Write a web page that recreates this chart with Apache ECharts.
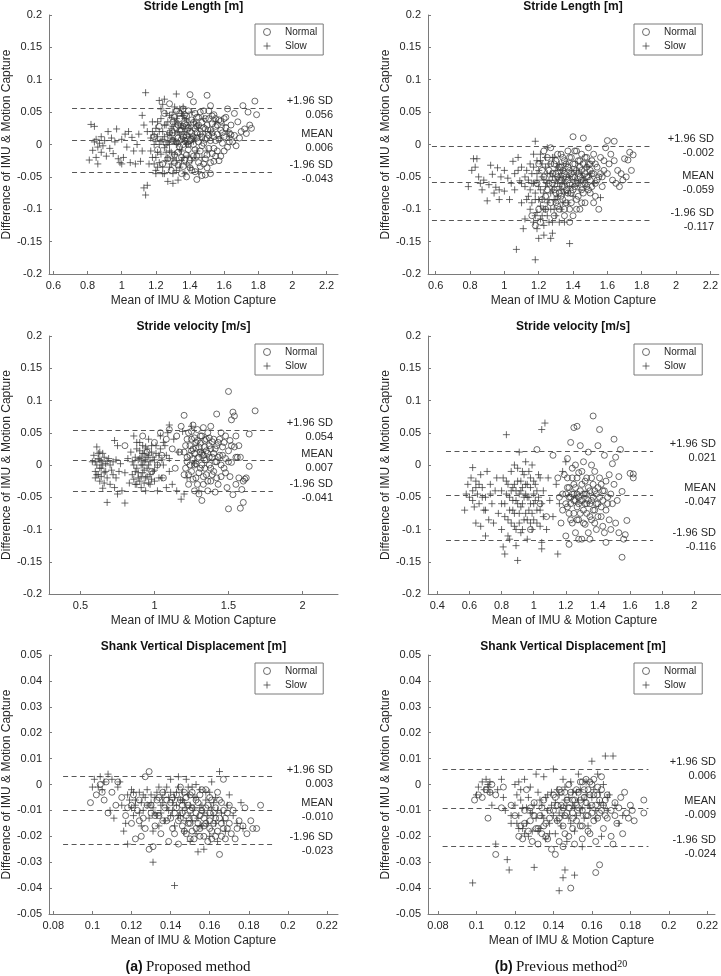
<!DOCTYPE html>
<html><head><meta charset="utf-8">
<script src="https://cdn.jsdelivr.net/npm/echarts@6/dist/echarts.min.js"></script>
<style>html,body{margin:0;padding:0;background:#fff}#c{width:721px;height:976px}</style>
</head><body><div id="c"></div>
<script>
// ---------------- DATA ----------------
const titles = ['Stride Length [m]', 'Stride Length [m]', 'Stride velocity [m/s]', 'Stride velocity [m/s]', 'Shank Vertical Displacement [m]', 'Shank Vertical Displacement [m]'];
const seriesNames = ['Normal', 'Slow'];
const xAxisTitle = 'Mean of IMU & Motion Capture';
const yAxisTitle = 'Difference of IMU & Motion Capture';
const lineNames = ['+1.96 SD', 'MEAN', '-1.96 SD'];
const captions = ['(a)', 'Proposed method', '(b)', 'Previous method', '20'];

const p1XRange = [0.574, 2.267], p1YRange = [-0.2, 0.2], p1YStep = 0.05;
const p2XRange = [0.555, 2.249], p2YRange = [-0.2, 0.2], p2YStep = 0.05;
const p3XRange = [0.287, 2.240], p3YRange = [-0.2, 0.2], p3YStep = 0.05;
const p4XRange = [0.342, 2.166], p4YRange = [-0.2, 0.2], p4YStep = 0.05;
const p5XRange = [0.0778, 0.2256], p5YRange = [-0.05, 0.05], p5YStep = 0.01;
const p6XRange = [0.0748, 0.2240], p6YRange = [-0.05, 0.05], p6YStep = 0.01;

const p1XTicks = [0.6, 0.8, 1, 1.2, 1.4, 1.6, 1.8, 2, 2.2];
const p2XTicks = [0.6, 0.8, 1, 1.2, 1.4, 1.6, 1.8, 2, 2.2];
const p3XTicks = [0.5, 1, 1.5, 2];
const p4XTicks = [0.4, 0.6, 0.8, 1, 1.2, 1.4, 1.6, 1.8, 2];
const p5XTicks = [0.08, 0.1, 0.12, 0.14, 0.16, 0.18, 0.2, 0.22];
const p6XTicks = [0.08, 0.1, 0.12, 0.14, 0.16, 0.18, 0.2, 0.22];

// reference lines: [+1.96 SD, MEAN, -1.96 SD] and their x extent
const p1Lines = [0.056, 0.006, -0.043], p1LineX = [0.709, 1.880];
const p2Lines = [-0.002, -0.059, -0.117], p2LineX = [0.578, 1.856];
const p3Lines = [0.054, 0.007, -0.041], p3LineX = [0.449, 1.800];
const p4Lines = [0.021, -0.047, -0.116], p4LineX = [0.454, 1.743];
const p5Lines = [0.003, -0.010, -0.023], p5LineX = [0.0850, 0.1924];
const p6Lines = [0.006, -0.009, -0.024], p6LineX = [0.0824, 0.1894];

const p1Normal = [[1.19,0.012],[1.21,-0.008],[1.22,0.028],[1.24,-0.03],[1.25,0.048],[1.26,0.002],[1.27,-0.022],[1.28,0.063],[1.28,0.018],[1.29,-0.04],[1.3,0.035],[1.3,0.006],[1.31,-0.016],[1.32,0.026],[1.32,0.052],[1.33,-0.032],[1.33,0.01],[1.34,0.04],[1.34,-0.004],[1.35,0.022],[1.35,-0.045],[1.36,0.055],[1.36,0.0],[1.37,0.032],[1.37,-0.024],[1.38,0.014],[1.38,-0.05],[1.38,0.044],[1.39,-0.008],[1.39,0.026],[1.4,0.077],[1.4,0.006],[1.4,-0.036],[1.41,0.038],[1.41,0.018],[1.42,0.066],[1.42,-0.018],[1.42,0.0],[1.43,0.048],[1.43,-0.042],[1.44,-0.054],[1.44,0.028],[1.44,0.01],[1.45,-0.028],[1.45,0.042],[1.46,0.016],[1.46,-0.01],[1.47,-0.048],[1.47,0.034],[1.48,0.002],[1.48,0.052],[1.49,-0.022],[1.49,0.024],[1.49,-0.047],[1.5,0.076],[1.5,0.01],[1.5,-0.036],[1.51,0.04],[1.51,-0.006],[1.52,0.06],[1.52,0.022],[1.52,-0.045],[1.53,-0.014],[1.53,0.032],[1.54,0.046],[1.54,-0.026],[1.55,0.006],[1.55,0.028],[1.56,-0.01],[1.56,0.016],[1.57,0.038],[1.57,-0.025],[1.58,-0.018],[1.58,0.022],[1.59,0.002],[1.6,0.04],[1.6,0.012],[1.61,0.026],[1.62,0.055],[1.62,-0.004],[1.63,0.018],[1.64,0.03],[1.65,0.004],[1.66,0.048],[1.66,0.014],[1.67,-0.002],[1.68,0.035],[1.69,0.01],[1.7,0.02],[1.71,0.06],[1.72,0.024],[1.73,0.017],[1.74,0.05],[1.75,0.03],[1.76,0.025],[1.78,0.067],[1.79,0.046]];
const p1NormalCore = [[1.3,0.018],[1.31,0.042],[1.31,-0.028],[1.32,0.004],[1.33,0.03],[1.33,-0.012],[1.34,0.022],[1.34,0.048],[1.35,-0.02],[1.35,0.008],[1.36,0.028],[1.36,-0.034],[1.37,0.046],[1.37,0.006],[1.38,-0.016],[1.38,0.03],[1.39,0.052],[1.39,0.0],[1.4,0.02],[1.4,-0.024],[1.41,0.008],[1.41,-0.04],[1.42,0.034],[1.42,0.012],[1.43,-0.008],[1.43,0.024],[1.44,0.042],[1.44,-0.018],[1.45,0.004],[1.45,0.03],[1.46,-0.034],[1.46,0.05],[1.47,0.012],[1.47,-0.002],[1.48,0.026],[1.48,-0.03],[1.49,0.04],[1.49,0.008],[1.5,-0.016],[1.5,0.03],[1.51,0.052],[1.51,0.014],[1.52,-0.028],[1.52,0.006],[1.53,0.044],[1.53,0.018],[1.54,-0.006],[1.54,0.012],[1.55,0.04],[1.55,-0.018],[1.56,0.03],[1.57,0.008],[1.58,0.036],[1.59,0.018],[1.6,-0.01],[1.61,0.042],[1.63,0.004],[1.64,0.015],[1.36,0.012],[1.44,0.018]];
const p1Slow = [[0.81,-0.024],[0.82,0.031],[0.83,-0.009],[0.84,0.028],[0.84,0.004],[0.85,-0.02],[0.85,0.008],[0.86,-0.03],[0.86,-0.004],[0.87,0.002],[0.88,0.012],[0.88,-0.012],[0.89,-0.002],[0.9,0.006],[0.91,-0.018],[0.92,0.02],[0.93,-0.006],[0.94,0.01],[0.95,-0.014],[0.96,0.004],[0.97,0.024],[0.98,-0.022],[0.99,-0.028],[1.0,0.008],[1.0,-0.03],[1.01,-0.02],[1.02,0.016],[1.03,-0.004],[1.04,0.02],[1.05,-0.028],[1.06,0.011],[1.07,-0.01],[1.08,-0.03],[1.09,0.0],[1.1,0.016],[1.11,-0.026],[1.12,0.045],[1.12,-0.01],[1.13,0.03],[1.13,-0.067],[1.14,0.08],[1.14,-0.078],[1.15,-0.063],[1.15,0.02],[1.16,-0.03],[1.17,0.01],[1.18,-0.02],[1.18,0.035],[1.19,0.0],[1.2,-0.04],[1.2,0.025],[1.21,0.012],[1.21,-0.012],[1.22,0.068],[1.22,-0.028],[1.23,0.04],[1.23,0.005],[1.24,-0.035],[1.24,0.02],[1.25,0.07],[1.25,-0.005],[1.25,-0.045],[1.26,0.03],[1.26,0.0],[1.27,-0.057],[1.27,0.015],[1.27,-0.02],[1.28,0.045],[1.28,-0.01],[1.29,0.025],[1.29,-0.03],[1.3,0.008],[1.3,-0.06],[1.3,0.05],[1.31,-0.015],[1.31,0.035],[1.32,0.078],[1.32,0.0],[1.32,-0.04],[1.33,0.02],[1.33,-0.055],[1.34,0.055],[1.34,-0.008],[1.35,0.03],[1.35,-0.025],[1.36,0.01],[1.36,0.045],[1.37,-0.045],[1.37,0.02],[1.38,0.0],[1.38,0.038],[1.39,-0.018],[1.4,0.025],[1.4,-0.035],[1.41,0.05],[1.42,0.005],[1.43,-0.02],[1.44,0.03],[1.45,-0.042],[1.46,0.015],[1.48,0.04],[1.5,-0.01],[1.52,0.02],[1.55,0.035],[1.58,0.01],[1.6,0.03],[1.62,0.02],[1.63,0.012]];
const p1SlowCore = [[1.17,-0.01],[1.18,0.02],[1.19,-0.03],[1.19,0.015],[1.2,0.005],[1.2,-0.02],[1.21,0.035],[1.21,-0.035],[1.22,0.0],[1.22,0.02],[1.23,-0.015],[1.23,0.055],[1.24,0.008],[1.24,-0.045],[1.25,0.03],[1.25,0.012],[1.26,-0.025],[1.26,0.048],[1.26,-0.012],[1.27,0.004],[1.27,0.035],[1.28,-0.035],[1.28,0.018],[1.28,0.0],[1.29,0.042],[1.29,-0.012],[1.29,0.01],[1.3,-0.022],[1.3,0.028],[1.3,-0.045],[1.31,0.005],[1.31,0.018],[1.32,-0.025],[1.32,0.04],[1.33,0.002],[1.33,0.032],[1.34,-0.035],[1.34,0.015],[1.35,-0.01],[1.35,0.048],[1.36,-0.02],[1.36,0.025],[1.37,0.005],[1.37,0.04],[1.38,-0.03],[1.38,0.015],[1.39,0.03],[1.39,0.002],[1.4,0.012],[1.41,-0.025],[1.42,0.035],[1.43,0.01],[1.44,-0.01],[1.45,0.025],[1.47,-0.02],[1.49,0.02],[1.24,0.062],[1.31,0.058],[1.36,0.058],[1.2,-0.045]];

const p2Normal = [[1.16,-0.11],[1.18,-0.125],[1.19,-0.06],[1.2,-0.03],[1.21,-0.12],[1.22,-0.085],[1.23,-0.01],[1.23,-0.05],[1.24,-0.1],[1.25,-0.07],[1.25,-0.02],[1.26,-0.04],[1.27,-0.09],[1.27,-0.005],[1.28,-0.06],[1.29,-0.03],[1.29,-0.11],[1.3,-0.075],[1.3,-0.045],[1.31,-0.015],[1.31,-0.095],[1.32,-0.055],[1.33,-0.035],[1.33,-0.08],[1.34,-0.065],[1.34,-0.02],[1.35,-0.045],[1.35,-0.1],[1.36,-0.03],[1.36,-0.07],[1.37,-0.01],[1.37,-0.055],[1.38,-0.1],[1.38,-0.12],[1.38,-0.04],[1.39,-0.075],[1.39,-0.02],[1.4,0.012],[1.4,-0.05],[1.4,-0.11],[1.41,-0.03],[1.41,-0.065],[1.42,-0.085],[1.42,-0.01],[1.43,-0.045],[1.43,-0.06],[1.44,-0.025],[1.44,-0.1],[1.45,-0.07],[1.45,-0.04],[1.45,-0.09],[1.46,0.01],[1.46,-0.055],[1.47,-0.02],[1.47,-0.09],[1.48,-0.035],[1.48,-0.065],[1.49,-0.005],[1.49,-0.05],[1.5,-0.075],[1.5,-0.03],[1.51,-0.045],[1.52,-0.09],[1.52,-0.015],[1.53,-0.06],[1.54,-0.035],[1.55,-0.1],[1.55,-0.05],[1.56,-0.02],[1.57,-0.065],[1.58,-0.04],[1.59,-0.005],[1.6,0.006],[1.6,-0.045],[1.61,-0.03],[1.62,-0.015],[1.63,-0.055],[1.64,0.005],[1.64,-0.025],[1.65,-0.06],[1.66,-0.04],[1.67,-0.065],[1.68,-0.045],[1.69,-0.055],[1.7,-0.022],[1.71,-0.05],[1.72,-0.024],[1.73,-0.012],[1.74,-0.04],[1.75,-0.016]];
const p2NormalCore = [[1.28,-0.045],[1.29,-0.07],[1.3,-0.025],[1.3,-0.09],[1.31,-0.05],[1.32,-0.035],[1.32,-0.075],[1.33,-0.015],[1.33,-0.055],[1.34,-0.085],[1.34,-0.04],[1.35,-0.065],[1.35,-0.025],[1.36,-0.05],[1.36,-0.09],[1.37,-0.035],[1.37,-0.075],[1.38,-0.06],[1.38,-0.02],[1.39,-0.045],[1.39,-0.09],[1.4,-0.03],[1.4,-0.07],[1.41,-0.05],[1.41,-0.01],[1.42,-0.04],[1.42,-0.06],[1.43,-0.025],[1.43,-0.08],[1.44,-0.05],[1.44,-0.035],[1.45,-0.015],[1.45,-0.055],[1.46,-0.075],[1.46,-0.03],[1.47,-0.045],[1.47,-0.06],[1.48,-0.02],[1.48,-0.05],[1.49,-0.07],[1.49,-0.03],[1.5,-0.055],[1.5,-0.04],[1.51,-0.025],[1.51,-0.065],[1.52,-0.045],[1.53,-0.03],[1.54,-0.055],[1.56,-0.045],[1.58,-0.025],[1.26,-0.06],[1.27,-0.03],[1.24,-0.08],[1.22,-0.04],[1.35,-0.11],[1.42,-0.1],[1.2,-0.1],[1.32,-0.1],[1.53,-0.08],[1.57,-0.05]];
const p2Slow = [[0.79,-0.065],[0.81,-0.04],[0.82,-0.022],[0.83,-0.035],[0.84,-0.022],[0.85,-0.05],[0.86,-0.06],[0.87,-0.07],[0.88,-0.055],[0.9,-0.087],[0.91,-0.062],[0.92,-0.032],[0.93,-0.046],[0.94,-0.075],[0.95,-0.066],[0.96,-0.036],[0.97,-0.07],[0.97,-0.085],[0.98,-0.05],[1.0,-0.04],[1.0,-0.072],[1.02,-0.052],[1.03,-0.085],[1.04,-0.06],[1.05,-0.026],[1.06,-0.045],[1.07,-0.162],[1.08,-0.02],[1.09,-0.056],[1.1,-0.09],[1.1,-0.035],[1.11,-0.13],[1.12,-0.065],[1.12,-0.115],[1.13,-0.04],[1.14,-0.08],[1.15,-0.1],[1.15,-0.03],[1.16,-0.06],[1.17,-0.12],[1.17,-0.015],[1.18,0.005],[1.18,-0.178],[1.18,-0.085],[1.19,-0.045],[1.19,-0.105],[1.2,-0.145],[1.2,-0.065],[1.21,-0.025],[1.21,-0.095],[1.22,-0.05],[1.22,-0.11],[1.23,-0.14],[1.23,-0.075],[1.24,-0.035],[1.24,-0.1],[1.25,-0.06],[1.25,-0.005],[1.26,-0.085],[1.26,-0.12],[1.27,-0.145],[1.27,-0.045],[1.28,-0.137],[1.28,-0.07],[1.29,-0.02],[1.29,-0.1],[1.3,-0.055],[1.3,-0.085],[1.31,-0.035],[1.32,-0.12],[1.32,-0.065],[1.33,-0.045],[1.34,-0.09],[1.35,-0.12],[1.35,-0.06],[1.36,-0.03],[1.37,-0.075],[1.38,-0.153],[1.38,-0.05],[1.4,-0.065],[1.42,-0.04],[1.44,-0.07],[1.46,-0.055],[1.48,-0.035],[1.5,-0.045],[1.52,-0.06],[1.56,-0.082]];
const p2SlowCore = [[1.15,-0.07],[1.16,-0.045],[1.16,-0.09],[1.17,-0.06],[1.17,-0.035],[1.18,-0.075],[1.18,-0.11],[1.19,-0.055],[1.19,-0.025],[1.2,-0.085],[1.2,-0.04],[1.21,-0.07],[1.21,-0.115],[1.22,-0.03],[1.22,-0.085],[1.23,-0.055],[1.23,-0.1],[1.24,-0.065],[1.24,-0.02],[1.25,-0.045],[1.25,-0.09],[1.25,-0.11],[1.26,-0.055],[1.26,-0.03],[1.27,-0.075],[1.27,-0.1],[1.28,-0.05],[1.28,-0.02],[1.29,-0.065],[1.29,-0.085],[1.3,-0.04],[1.3,-0.11],[1.31,-0.06],[1.31,-0.08],[1.32,-0.03],[1.32,-0.05],[1.33,-0.07],[1.33,-0.1],[1.34,-0.055],[1.34,-0.04],[1.35,-0.075],[1.36,-0.05],[1.37,-0.09],[1.38,-0.065],[1.39,-0.04],[1.4,-0.08],[1.41,-0.055],[1.43,-0.06],[1.45,-0.045],[1.47,-0.065],[1.12,-0.05],[1.13,-0.085],[1.1,-0.06],[1.08,-0.04],[1.06,-0.07],[1.14,-0.055],[1.21,-0.015],[1.28,-0.12],[1.23,-0.125],[1.19,-0.13]];

const p3Normal = [[0.8,0.03],[0.92,0.045],[0.95,0.02],[0.98,-0.01],[1.0,0.035],[1.02,0.0],[1.04,0.05],[1.05,0.015],[1.06,-0.02],[1.08,0.04],[1.1,0.055],[1.12,0.025],[1.14,-0.005],[1.15,0.045],[1.17,0.02],[1.18,0.06],[1.2,0.077],[1.2,-0.015],[1.21,0.03],[1.22,0.005],[1.23,0.05],[1.23,-0.03],[1.24,0.015],[1.25,0.04],[1.25,-0.01],[1.26,0.062],[1.26,0.025],[1.27,-0.04],[1.27,0.0],[1.28,0.035],[1.28,-0.02],[1.29,0.055],[1.29,0.01],[1.3,-0.045],[1.3,0.028],[1.31,-0.005],[1.31,0.045],[1.32,-0.055],[1.32,0.018],[1.33,0.058],[1.33,-0.03],[1.34,0.008],[1.34,0.038],[1.35,-0.015],[1.35,0.022],[1.36,0.05],[1.36,-0.04],[1.37,0.0],[1.37,0.03],[1.38,-0.025],[1.38,0.06],[1.39,0.012],[1.4,0.04],[1.4,-0.01],[1.41,0.025],[1.41,-0.042],[1.42,0.079],[1.42,0.005],[1.43,0.035],[1.43,-0.03],[1.44,0.015],[1.45,0.05],[1.45,-0.018],[1.46,0.028],[1.47,-0.005],[1.48,0.045],[1.48,0.01],[1.49,-0.035],[1.5,0.114],[1.5,-0.068],[1.5,0.022],[1.51,0.038],[1.51,-0.018],[1.52,0.07],[1.52,0.004],[1.53,0.082],[1.53,-0.046],[1.54,0.076],[1.54,0.028],[1.55,-0.03],[1.55,0.045],[1.56,0.012],[1.57,-0.02],[1.57,0.03],[1.58,-0.067],[1.58,0.012],[1.59,-0.038],[1.6,-0.058],[1.6,-0.025],[1.61,-0.022],[1.62,-0.02],[1.64,0.048],[1.64,-0.002],[1.68,0.084]];
const p3NormalCore = [[1.2,0.02],[1.21,-0.005],[1.22,0.04],[1.22,0.012],[1.23,-0.015],[1.24,0.03],[1.24,0.0],[1.25,0.022],[1.25,0.052],[1.26,-0.022],[1.26,0.01],[1.27,0.042],[1.27,0.018],[1.28,0.002],[1.28,0.026],[1.29,-0.03],[1.29,0.038],[1.3,0.012],[1.3,-0.012],[1.31,0.02],[1.31,0.034],[1.32,0.0],[1.32,0.045],[1.33,0.015],[1.33,-0.018],[1.34,0.028],[1.34,-0.005],[1.35,0.04],[1.35,0.008],[1.36,0.018],[1.36,-0.025],[1.37,0.042],[1.37,0.012],[1.38,-0.005],[1.38,0.025],[1.39,0.036],[1.39,-0.015],[1.4,0.018],[1.41,0.005],[1.42,0.03],[1.42,-0.02],[1.43,0.012],[1.44,0.04],[1.45,0.0],[1.46,0.015],[1.47,0.035],[1.48,-0.012],[1.5,0.005],[1.52,0.03],[1.55,0.012]];
const p3Slow = [[0.58,0.005],[0.59,0.015],[0.6,-0.01],[0.6,-0.02],[0.61,0.028],[0.61,0.0],[0.62,-0.015],[0.62,0.01],[0.63,-0.025],[0.63,0.02],[0.64,-0.005],[0.64,0.005],[0.65,-0.036],[0.65,0.018],[0.66,-0.012],[0.67,0.002],[0.68,-0.058],[0.68,-0.02],[0.69,0.01],[0.7,-0.03],[0.71,-0.008],[0.72,0.005],[0.73,0.038],[0.73,-0.035],[0.74,-0.02],[0.75,0.03],[0.75,-0.045],[0.76,-0.01],[0.77,0.002],[0.78,-0.04],[0.8,-0.059],[0.8,-0.012],[0.82,0.01],[0.83,-0.028],[0.84,0.02],[0.85,-0.015],[0.86,0.045],[0.86,0.0],[0.87,-0.03],[0.88,0.025],[0.88,-0.005],[0.89,-0.02],[0.9,0.01],[0.9,0.035],[0.91,-0.035],[0.91,0.0],[0.92,0.018],[0.92,-0.012],[0.93,0.005],[0.93,-0.028],[0.94,0.028],[0.94,-0.04],[0.95,0.012],[0.95,-0.018],[0.96,0.0],[0.96,0.04],[0.97,-0.03],[0.98,0.02],[0.99,-0.01],[1.0,0.008],[1.0,-0.025],[1.01,0.03],[1.02,-0.04],[1.03,0.015],[1.04,0.045],[1.05,-0.02],[1.06,0.0],[1.07,0.03],[1.08,-0.035],[1.09,0.05],[1.1,0.062],[1.1,0.01],[1.12,-0.03],[1.13,0.04],[1.15,-0.04],[1.16,0.02],[1.18,-0.053],[1.19,0.052],[1.2,-0.045],[1.22,-0.02],[1.25,0.06],[1.27,0.002],[1.3,-0.04],[1.32,0.02]];
const p3SlowCore = [[0.6,0.005],[0.61,-0.015],[0.62,0.018],[0.63,-0.005],[0.63,0.008],[0.64,-0.018],[0.65,0.0],[0.66,0.012],[0.66,-0.028],[0.67,-0.01],[0.68,0.006],[0.7,0.0],[0.72,-0.015],[0.74,0.008],[0.85,0.005],[0.86,-0.022],[0.87,0.012],[0.87,-0.01],[0.88,0.035],[0.88,-0.03],[0.89,0.008],[0.89,-0.012],[0.9,-0.025],[0.9,0.022],[0.91,0.012],[0.91,-0.018],[0.92,0.0],[0.92,0.03],[0.93,-0.008],[0.93,0.018],[0.94,-0.02],[0.94,0.008],[0.95,0.025],[0.95,-0.005],[0.96,-0.028],[0.96,0.015],[0.97,0.005],[0.97,-0.015],[0.98,0.03],[0.98,-0.022],[0.99,0.012],[1.0,-0.008],[1.01,0.018],[1.02,0.0],[1.03,-0.02],[1.04,0.025],[1.05,0.008],[1.06,0.035],[1.08,0.015],[1.1,-0.01]];

const p4Normal = [[0.98,-0.1],[1.02,0.024],[1.04,-0.06],[1.08,-0.08],[1.12,0.015],[1.15,-0.02],[1.17,-0.09],[1.18,-0.045],[1.19,-0.015],[1.2,-0.06],[1.2,-0.11],[1.21,0.01],[1.21,-0.035],[1.22,-0.123],[1.22,-0.075],[1.23,0.035],[1.23,-0.05],[1.24,-0.02],[1.24,-0.09],[1.25,0.058],[1.25,-0.055],[1.25,-0.03],[1.26,-0.105],[1.26,0.0],[1.27,0.06],[1.27,-0.065],[1.27,-0.045],[1.28,-0.012],[1.28,-0.085],[1.28,-0.115],[1.29,0.03],[1.29,-0.055],[1.3,-0.115],[1.3,-0.03],[1.31,-0.07],[1.31,0.005],[1.32,-0.045],[1.32,-0.092],[1.33,-0.02],[1.33,-0.06],[1.34,0.02],[1.34,-0.105],[1.35,-0.04],[1.35,-0.08],[1.35,-0.115],[1.36,0.0],[1.36,-0.055],[1.37,0.076],[1.37,-0.03],[1.38,-0.07],[1.38,-0.01],[1.39,-0.045],[1.39,-0.1],[1.4,0.03],[1.4,-0.06],[1.41,0.055],[1.41,-0.02],[1.42,-0.08],[1.43,-0.04],[1.43,-0.095],[1.44,0.015],[1.44,-0.105],[1.45,-0.025],[1.45,-0.12],[1.46,-0.06],[1.47,-0.015],[1.48,-0.045],[1.48,-0.1],[1.49,0.002],[1.5,0.04],[1.5,-0.03],[1.51,-0.09],[1.51,0.012],[1.52,-0.055],[1.53,-0.018],[1.53,-0.105],[1.54,0.024],[1.55,-0.041],[1.55,-0.143],[1.56,-0.115],[1.57,-0.108],[1.58,-0.086],[1.6,-0.013],[1.62,-0.02],[1.62,-0.014]];
const p4NormalCore = [[1.2,-0.045],[1.21,-0.065],[1.21,-0.02],[1.22,-0.05],[1.22,-0.035],[1.23,-0.085],[1.23,-0.06],[1.24,-0.045],[1.24,-0.005],[1.25,-0.075],[1.25,-0.045],[1.26,-0.055],[1.26,-0.035],[1.27,-0.085],[1.27,-0.02],[1.28,-0.05],[1.28,-0.06],[1.29,-0.04],[1.29,-0.075],[1.3,-0.055],[1.3,-0.01],[1.31,-0.045],[1.31,-0.09],[1.32,-0.06],[1.32,-0.025],[1.33,-0.075],[1.33,-0.045],[1.34,-0.055],[1.34,-0.035],[1.35,-0.06],[1.36,-0.085],[1.36,-0.02],[1.37,-0.05],[1.37,-0.07],[1.38,-0.04],[1.38,-0.09],[1.39,-0.06],[1.4,-0.035],[1.4,-0.08],[1.41,-0.05],[1.42,-0.065],[1.42,-0.03],[1.43,-0.055],[1.44,-0.04],[1.45,-0.07],[1.46,-0.05],[1.47,-0.085],[1.49,-0.06],[1.18,-0.07],[1.16,-0.05]];
const p4Slow = [[0.57,-0.07],[0.58,-0.045],[0.59,-0.03],[0.6,-0.05],[0.61,-0.02],[0.62,-0.004],[0.62,-0.04],[0.63,-0.065],[0.64,-0.025],[0.64,-0.09],[0.65,-0.045],[0.66,-0.06],[0.67,-0.015],[0.67,-0.095],[0.68,-0.035],[0.69,-0.07],[0.7,-0.05],[0.7,-0.11],[0.71,-0.01],[0.72,-0.085],[0.73,-0.03],[0.74,-0.06],[0.75,-0.09],[0.76,-0.04],[0.77,-0.02],[0.78,-0.075],[0.8,-0.1],[0.8,-0.04],[0.81,-0.127],[0.82,-0.138],[0.82,-0.06],[0.83,0.047],[0.83,-0.025],[0.84,-0.085],[0.85,-0.05],[0.85,-0.115],[0.86,-0.01],[0.87,-0.07],[0.87,-0.035],[0.88,0.0],[0.88,-0.095],[0.89,-0.055],[0.89,-0.125],[0.9,-0.148],[0.9,-0.025],[0.91,0.02],[0.91,-0.075],[0.92,-0.04],[0.92,-0.105],[0.93,-0.01],[0.93,-0.06],[0.94,-0.085],[0.95,-0.03],[0.95,0.005],[0.96,-0.05],[0.96,-0.115],[0.97,-0.07],[0.98,-0.02],[0.98,-0.09],[0.99,0.0],[1.0,-0.045],[1.0,-0.06],[1.01,-0.03],[1.02,-0.09],[1.03,-0.015],[1.04,-0.07],[1.05,0.055],[1.05,-0.13],[1.05,-0.12],[1.06,-0.04],[1.07,0.065],[1.08,-0.1],[1.09,-0.02],[1.1,-0.055],[1.12,-0.08],[1.14,-0.03],[1.15,-0.138],[1.16,-0.06],[1.18,-0.01],[1.2,0.005]];
const p4SlowCore = [[0.8,-0.06],[0.81,-0.02],[0.82,-0.08],[0.83,-0.045],[0.84,-0.03],[0.84,-0.11],[0.85,-0.07],[0.86,-0.04],[0.86,-0.09],[0.87,-0.055],[0.88,-0.03],[0.88,-0.075],[0.89,-0.04],[0.89,-0.1],[0.9,-0.06],[0.9,-0.005],[0.91,-0.045],[0.91,-0.09],[0.92,-0.025],[0.92,-0.065],[0.93,-0.035],[0.93,-0.1],[0.94,-0.05],[0.94,-0.015],[0.95,-0.075],[0.95,-0.045],[0.96,-0.03],[0.96,-0.085],[0.97,-0.05],[0.97,-0.01],[0.98,-0.06],[0.98,-0.035],[0.99,-0.075],[0.99,-0.1],[1.0,-0.025],[1.0,-0.085],[1.01,-0.055],[1.02,-0.04],[1.02,-0.07],[1.03,-0.05],[1.04,-0.02],[1.04,-0.095],[1.05,-0.06],[1.06,-0.08],[0.62,-0.055],[0.64,-0.035],[0.66,-0.03],[0.68,-0.05],[0.7,-0.07],[0.73,-0.045]];

const p5Normal = [[0.099,-0.007],[0.102,-0.004],[0.104,0.0],[0.105,-0.003],[0.106,-0.006],[0.107,0.001],[0.108,-0.011],[0.11,-0.003],[0.112,-0.008],[0.113,0.001],[0.115,-0.005],[0.117,-0.012],[0.118,-0.009],[0.12,-0.015],[0.121,-0.004],[0.122,-0.021],[0.123,-0.01],[0.124,-0.006],[0.125,-0.02],[0.126,-0.013],[0.127,0.003],[0.127,-0.017],[0.128,-0.008],[0.129,0.005],[0.129,-0.025],[0.13,-0.011],[0.131,-0.024],[0.132,-0.016],[0.133,-0.006],[0.134,-0.012],[0.135,-0.019],[0.136,-0.003],[0.137,-0.009],[0.138,-0.014],[0.139,-0.022],[0.14,-0.007],[0.141,-0.017],[0.142,-0.011],[0.143,-0.004],[0.144,-0.023],[0.145,-0.013],[0.145,-0.001],[0.146,-0.008],[0.147,-0.018],[0.148,-0.005],[0.149,-0.015],[0.15,-0.01],[0.15,-0.021],[0.151,-0.003],[0.152,-0.013],[0.153,-0.017],[0.154,-0.007],[0.155,-0.02],[0.155,-0.012],[0.156,-0.002],[0.157,-0.016],[0.158,-0.009],[0.159,-0.022],[0.16,-0.014],[0.16,-0.005],[0.161,-0.018],[0.162,-0.011],[0.163,-0.02],[0.164,-0.003],[0.165,-0.027],[0.165,-0.013],[0.166,-0.007],[0.167,0.002],[0.167,-0.017],[0.168,-0.021],[0.169,-0.011],[0.17,-0.015],[0.171,-0.019],[0.172,-0.01],[0.173,-0.021],[0.174,-0.017],[0.175,-0.014],[0.177,-0.016],[0.178,-0.009],[0.179,-0.019],[0.181,-0.014],[0.182,-0.017],[0.184,-0.017],[0.186,-0.008]];
const p5NormalCore = [[0.14,-0.013],[0.141,-0.005],[0.142,-0.019],[0.143,-0.009],[0.144,-0.014],[0.145,-0.006],[0.146,-0.016],[0.146,-0.011],[0.147,-0.003],[0.148,-0.012],[0.148,-0.019],[0.149,-0.008],[0.15,-0.015],[0.15,-0.004],[0.151,-0.018],[0.151,-0.009],[0.152,-0.021],[0.153,-0.011],[0.153,-0.006],[0.154,-0.015],[0.155,-0.017],[0.155,-0.004],[0.156,-0.01],[0.157,-0.02],[0.157,-0.013],[0.158,-0.015],[0.158,-0.002],[0.159,-0.008],[0.16,-0.017],[0.16,-0.011],[0.161,-0.021],[0.161,-0.006],[0.162,-0.015],[0.163,-0.009],[0.163,-0.013],[0.164,-0.018],[0.165,-0.006],[0.166,-0.015],[0.166,-0.02],[0.167,-0.01],[0.168,-0.013],[0.169,-0.017],[0.17,-0.008],[0.13,-0.008],[0.132,-0.012],[0.134,-0.005],[0.136,-0.014],[0.138,-0.006],[0.12,-0.008],[0.124,-0.014]];
const p5Slow = [[0.1,-0.001],[0.101,0.002],[0.103,-0.001],[0.104,0.003],[0.105,-0.002],[0.106,0.001],[0.108,0.004],[0.109,-0.01],[0.11,0.002],[0.111,-0.013],[0.113,-0.001],[0.114,0.001],[0.115,-0.008],[0.116,-0.018],[0.117,-0.015],[0.118,-0.023],[0.119,-0.006],[0.12,-0.002],[0.121,-0.012],[0.122,-0.008],[0.124,-0.003],[0.125,-0.016],[0.126,-0.01],[0.127,-0.005],[0.128,-0.002],[0.129,-0.013],[0.13,-0.007],[0.131,-0.03],[0.131,-0.018],[0.132,-0.011],[0.133,-0.003],[0.134,-0.016],[0.135,-0.008],[0.136,-0.005],[0.137,-0.014],[0.138,-0.001],[0.139,-0.01],[0.14,0.002],[0.141,-0.007],[0.142,-0.039],[0.142,-0.016],[0.143,-0.003],[0.144,0.003],[0.145,-0.012],[0.146,-0.006],[0.147,-0.018],[0.148,0.002],[0.148,-0.009],[0.149,-0.001],[0.15,-0.022],[0.151,-0.014],[0.152,-0.005],[0.153,-0.019],[0.153,0.0],[0.154,-0.026],[0.155,-0.009],[0.156,-0.016],[0.157,-0.025],[0.158,-0.003],[0.159,-0.012],[0.16,-0.02],[0.161,0.001],[0.162,-0.007],[0.163,-0.015],[0.164,-0.022],[0.165,0.005],[0.166,-0.011],[0.168,-0.018],[0.17,-0.004],[0.172,-0.012],[0.174,-0.015],[0.176,-0.007],[0.177,-0.017]];
const p5SlowCore = [[0.13,-0.004],[0.131,-0.009],[0.132,-0.005],[0.133,-0.012],[0.134,-0.001],[0.135,-0.011],[0.136,-0.007],[0.137,-0.003],[0.138,-0.009],[0.139,-0.005],[0.14,-0.012],[0.14,-0.003],[0.141,-0.01],[0.142,-0.005],[0.143,-0.008],[0.144,-0.012],[0.144,-0.001],[0.145,-0.006],[0.146,-0.01],[0.146,-0.003],[0.147,-0.007],[0.148,-0.014],[0.149,-0.004],[0.15,-0.008],[0.15,-0.012],[0.151,-0.001],[0.152,-0.009],[0.153,-0.005],[0.154,-0.013],[0.155,-0.002],[0.155,-0.016],[0.156,-0.008],[0.157,-0.011],[0.158,-0.006],[0.159,-0.015],[0.16,-0.003],[0.161,-0.009],[0.162,-0.012],[0.163,-0.005],[0.164,-0.01],[0.118,-0.004],[0.12,-0.009],[0.122,-0.006],[0.124,-0.011],[0.126,-0.004],[0.128,-0.008],[0.121,-0.003],[0.125,-0.007],[0.167,-0.014],[0.169,-0.008]];

const p6Normal = [[0.099,-0.006],[0.101,-0.004],[0.103,-0.005],[0.105,-0.002],[0.106,-0.013],[0.107,-0.003],[0.108,0.0],[0.11,-0.004],[0.11,-0.027],[0.113,-0.009],[0.114,-0.001],[0.118,-0.008],[0.12,-0.012],[0.122,-0.02],[0.123,-0.016],[0.124,-0.021],[0.125,-0.01],[0.126,-0.002],[0.127,-0.018],[0.128,-0.014],[0.129,-0.022],[0.13,-0.007],[0.131,-0.017],[0.132,-0.023],[0.133,-0.012],[0.134,-0.019],[0.135,-0.006],[0.136,-0.015],[0.137,-0.021],[0.138,-0.01],[0.139,-0.025],[0.14,-0.004],[0.141,-0.027],[0.142,-0.014],[0.143,-0.022],[0.143,-0.002],[0.144,-0.008],[0.145,-0.024],[0.145,-0.016],[0.146,-0.003],[0.147,-0.011],[0.148,-0.02],[0.148,0.0],[0.149,-0.04],[0.15,-0.006],[0.15,-0.013],[0.151,-0.023],[0.152,-0.002],[0.153,-0.009],[0.154,-0.016],[0.155,0.001],[0.155,-0.021],[0.156,-0.005],[0.157,-0.012],[0.158,-0.002],[0.159,-0.019],[0.16,0.0],[0.16,-0.008],[0.161,-0.014],[0.162,-0.034],[0.162,-0.022],[0.163,-0.004],[0.164,-0.031],[0.164,-0.011],[0.165,0.003],[0.166,-0.017],[0.167,-0.006],[0.168,-0.013],[0.17,-0.02],[0.171,-0.023],[0.172,-0.012],[0.173,-0.015],[0.174,-0.009],[0.175,-0.005],[0.176,-0.019],[0.177,-0.003],[0.178,-0.011],[0.179,-0.013],[0.18,-0.008],[0.181,-0.01],[0.182,-0.014],[0.187,-0.006],[0.187,-0.011]];
const p6NormalCore = [[0.14,-0.01],[0.141,-0.005],[0.142,-0.008],[0.143,-0.013],[0.144,-0.003],[0.145,-0.009],[0.146,-0.012],[0.147,-0.006],[0.148,-0.009],[0.149,-0.003],[0.15,-0.011],[0.151,-0.006],[0.152,-0.014],[0.152,-0.008],[0.153,-0.003],[0.154,-0.006],[0.154,0.001],[0.155,-0.01],[0.156,-0.002],[0.157,-0.007],[0.157,0.002],[0.158,-0.012],[0.159,-0.004],[0.159,0.001],[0.16,-0.011],[0.161,-0.004],[0.161,0.002],[0.162,-0.008],[0.163,-0.001],[0.163,-0.013],[0.164,-0.006],[0.165,-0.01],[0.165,-0.002],[0.166,-0.008],[0.167,-0.012],[0.168,-0.004],[0.13,-0.012],[0.132,-0.017],[0.134,-0.009],[0.136,-0.02],[0.138,-0.013],[0.135,-0.016],[0.125,-0.015],[0.128,-0.009],[0.17,-0.01],[0.172,-0.007],[0.155,-0.016],[0.158,-0.018],[0.146,-0.019],[0.15,-0.017]];
const p6Slow = [[0.098,-0.038],[0.1,-0.004],[0.101,-0.001],[0.103,0.001],[0.105,0.002],[0.106,-0.001],[0.107,0.001],[0.108,-0.008],[0.11,-0.023],[0.111,-0.002],[0.113,0.002],[0.114,-0.005],[0.116,-0.029],[0.117,-0.033],[0.118,-0.012],[0.12,0.0],[0.121,-0.015],[0.122,0.001],[0.123,-0.006],[0.124,-0.017],[0.125,0.002],[0.126,-0.009],[0.127,-0.02],[0.128,-0.001],[0.129,-0.011],[0.13,-0.032],[0.131,0.004],[0.132,-0.018],[0.133,-0.006],[0.134,-0.012],[0.135,0.003],[0.136,-0.021],[0.137,-0.004],[0.138,-0.015],[0.139,-0.008],[0.14,0.006],[0.141,-0.019],[0.142,-0.002],[0.143,-0.041],[0.143,-0.011],[0.144,-0.016],[0.145,-0.036],[0.145,0.002],[0.146,-0.033],[0.146,-0.006],[0.147,-0.022],[0.148,-0.013],[0.149,0.001],[0.15,-0.008],[0.151,-0.035],[0.151,-0.018],[0.152,-0.003],[0.153,0.004],[0.154,-0.011],[0.155,-0.024],[0.156,-0.006],[0.157,0.001],[0.158,-0.016],[0.159,-0.009],[0.16,0.009],[0.161,-0.002],[0.162,-0.013],[0.163,0.004],[0.164,-0.007],[0.165,-0.02],[0.166,0.0],[0.167,0.011],[0.168,-0.01],[0.169,-0.004],[0.171,0.011],[0.172,-0.008],[0.174,-0.015],[0.176,-0.012]];
const p6SlowCore = [[0.12,-0.008],[0.121,-0.004],[0.122,-0.012],[0.123,-0.002],[0.124,-0.009],[0.126,-0.015],[0.127,-0.005],[0.128,-0.011],[0.129,-0.018],[0.13,-0.008],[0.131,-0.013],[0.132,-0.003],[0.133,-0.017],[0.134,-0.008],[0.135,-0.013],[0.136,-0.005],[0.137,-0.01],[0.138,-0.019],[0.139,-0.003],[0.14,-0.012],[0.141,-0.007],[0.142,-0.014],[0.143,-0.004],[0.144,-0.009],[0.145,-0.012],[0.146,-0.001],[0.147,-0.008],[0.148,-0.005],[0.149,-0.015],[0.15,-0.003],[0.151,-0.009],[0.152,-0.012],[0.153,-0.006],[0.154,-0.002],[0.155,-0.009],[0.156,-0.013],[0.157,-0.004],[0.158,-0.008],[0.16,-0.005],[0.162,-0.01],[0.164,-0.003],[0.166,-0.008],[0.168,-0.005],[0.106,0.0],[0.107,-0.003],[0.104,-0.002],[0.125,-0.019],[0.118,-0.015],[0.122,-0.017],[0.115,-0.01]];

// ---------------- BUILD ----------------
const panels = [
  {normal:p1Normal.concat(p1NormalCore), slow:p1Slow.concat(p1SlowCore), lines:p1Lines, lineX:p1LineX, xr:p1XRange, yr:p1YRange, ys:p1YStep, xt:p1XTicks},
  {normal:p2Normal.concat(p2NormalCore), slow:p2Slow.concat(p2SlowCore), lines:p2Lines, lineX:p2LineX, xr:p2XRange, yr:p2YRange, ys:p2YStep, xt:p2XTicks},
  {normal:p3Normal.concat(p3NormalCore), slow:p3Slow.concat(p3SlowCore), lines:p3Lines, lineX:p3LineX, xr:p3XRange, yr:p3YRange, ys:p3YStep, xt:p3XTicks},
  {normal:p4Normal.concat(p4NormalCore), slow:p4Slow.concat(p4SlowCore), lines:p4Lines, lineX:p4LineX, xr:p4XRange, yr:p4YRange, ys:p4YStep, xt:p4XTicks},
  {normal:p5Normal.concat(p5NormalCore), slow:p5Slow.concat(p5SlowCore), lines:p5Lines, lineX:p5LineX, xr:p5XRange, yr:p5YRange, ys:p5YStep, xt:p5XTicks},
  {normal:p6Normal.concat(p6NormalCore), slow:p6Slow.concat(p6SlowCore), lines:p6Lines, lineX:p6LineX, xr:p6XRange, yr:p6YRange, ys:p6YStep, xt:p6XTicks}
];
const layout = [
  {left:49, top:15, width:289, height:259, textRight:333, legL:255, legT:24, titleX:193.5, titleTop:1},
  {left:428, top:15, width:293, height:259, textRight:714, legL:634, legT:24, titleX:573, titleTop:1},
  {left:49, top:336, width:289, height:258, textRight:333, legL:255, legT:344, titleX:193.5, titleTop:321},
  {left:428, top:336, width:293, height:258, textRight:716, legL:634, legT:344, titleX:573, titleTop:321},
  {left:49, top:655, width:289, height:259, textRight:333, legL:255, legT:663, titleX:193.5, titleTop:641},
  {left:428, top:655, width:293, height:259, textRight:716, legL:634, legT:663, titleX:573, titleTop:641}
];
const FONT = '"Liberation Sans", Arial, Helvetica, sans-serif';
const SERIF = '"Liberation Serif", "Times New Roman", serif';
const AX = '#7a7a7a', TXT = '#262626', MK = '#333333';
const PLUS = 'path://M5,0L5,10M0,5L10,5';
const normalStyle = {color:'rgba(0,0,0,0)', borderColor:MK, borderWidth:0.9};
const slowStyle = {color:'none', borderColor:MK, borderWidth:0.9};

const chart = echarts.init(document.getElementById('c'), null, {renderer:'canvas'});
const option = {
  animation:false,
  backgroundColor:'#fff',
  textStyle:{fontFamily:FONT},
  title: layout.map((L,i)=>({text:titles[i], left:L.titleX, top:L.titleTop, textAlign:'center', padding:0,
    textStyle:{fontFamily:FONT, fontSize:12, fontWeight:'bold', color:'#111'}})),
  grid: layout.map(L=>({left:L.left, top:L.top, width:L.width, height:L.height, containLabel:false})),
  legend: layout.map(L=>({
    left:L.legL, top:L.legT, orient:'vertical', itemGap:3, itemWidth:26, itemHeight:7,
    padding:[3,6,3,6], borderColor:'#7a7a7a', borderWidth:1, backgroundColor:'#fff', selectedMode:false,
    textStyle:{fontFamily:FONT, fontSize:10, color:TXT},
    data:[{name:seriesNames[0], icon:'circle', itemStyle:normalStyle},{name:seriesNames[1], icon:PLUS, itemStyle:slowStyle}]
  })),
  xAxis: panels.map((p,i)=>({gridIndex:i, type:'value', min:p.xr[0], max:p.xr[1],
    axisLine:{show:true, onZero:false, lineStyle:{color:AX, width:1}},
    axisTick:{show:true, inside:true, length:3, customValues:p.xt, lineStyle:{color:AX}},
    axisLabel:{customValues:p.xt, color:TXT, fontSize:11, fontFamily:FONT, margin:6},
    splitLine:{show:false},
    name:xAxisTitle, nameLocation:'middle', nameGap:21, nameTextStyle:{fontSize:12, color:TXT, fontFamily:FONT}})),
  yAxis: panels.map((p,i)=>({gridIndex:i, type:'value', min:p.yr[0], max:p.yr[1], interval:p.ys,
    axisLine:{show:true, onZero:false, lineStyle:{color:AX, width:1}},
    axisTick:{show:true, inside:true, length:3, lineStyle:{color:AX}},
    axisLabel:{color:TXT, fontSize:11, fontFamily:FONT, margin:7},
    splitLine:{show:false},
    name:yAxisTitle, nameLocation:'middle', nameGap:35, nameTextStyle:{fontSize:12, color:TXT, fontFamily:FONT}})),
  series: []
};
panels.forEach((p,i)=>{
  option.series.push({type:'scatter', name:seriesNames[0], xAxisIndex:i, yAxisIndex:i, data:p.normal,
    symbol:'circle', symbolSize:6, itemStyle:normalStyle, silent:true, z:3,
    markLine:{silent:true, symbol:['none','none'], label:{show:false},
      lineStyle:{type:[5,3.5], color:'#444', width:0.9},
      data:p.lines.map(v=>[{coord:[p.lineX[0], v]},{coord:[p.lineX[1], v]}])}});
  option.series.push({type:'scatter', name:seriesNames[1], xAxisIndex:i, yAxisIndex:i, data:p.slow,
    symbol:PLUS, symbolSize:7, itemStyle:slowStyle, silent:true, z:3});
});
chart.setOption(option);

// annotations beside the reference lines, positioned through the axes
const g = [];
panels.forEach((p,i)=>{
  const L = layout[i];
  p.lines.forEach((v,j)=>{
    const py = chart.convertToPixel({gridIndex:i}, [p.lineX[0], v])[1];
    g.push({type:'text', x:L.textRight, y:py, silent:true,
      style:{text:lineNames[j]+'\n'+v.toFixed(3), align:'right', verticalAlign:'middle', lineHeight:14,
        fontFamily:FONT, fontSize:11, fill:TXT}});
  });
});
g.push({type:'text', x:188, y:967, silent:true, style:{
  text:'{b|'+captions[0]+'} {s|'+captions[1]+'}', align:'center', verticalAlign:'middle',
  rich:{b:{fontFamily:FONT, fontWeight:'bold', fontSize:14, fill:'#111'}, s:{fontFamily:SERIF, fontSize:15, fill:'#111'}}}});
g.push({type:'text', x:561, y:967, silent:true, style:{
  text:'{b|'+captions[2]+'} {s|'+captions[3]+'}{u|'+captions[4]+'}', align:'center', verticalAlign:'middle',
  rich:{b:{fontFamily:FONT, fontWeight:'bold', fontSize:14, fill:'#111'}, s:{fontFamily:SERIF, fontSize:15, fill:'#111'},
    u:{fontFamily:SERIF, fontSize:10, fill:'#111', verticalAlign:'top', padding:[0,0,6,0]}}}});
chart.setOption({graphic:g});
</script></body></html>
